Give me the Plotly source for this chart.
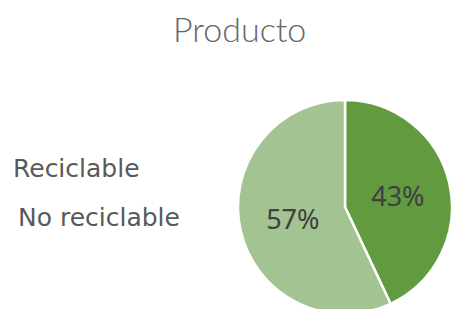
import plotly.graph_objects as go

categories = ["Reciclable", "No reciclable"]
values = [43, 57]
colors = ["#629B3F", "#A3C492"]
title_text = "Producto"

W, H = 452, 320  # taller than the 309px window so the pie is cut at the bottom like the reference

def px(x):
    return x / W

def py(y):
    return 1 - y / H

fig = go.Figure(go.Pie(
    labels=categories,
    values=values,
    sort=False,
    direction="clockwise",
    rotation=0,
    marker=dict(colors=colors, line=dict(color="white", width=2.5)),
    textinfo="percent",
    texttemplate="%{percent:.0%}",
    textposition="inside",
    insidetextorientation="horizontal",
    textfont=dict(family="Noto Sans", size=27, color="#404040"),
    domain=dict(x=[px(238), px(452)], y=[py(314), py(100)]),
    showlegend=False,
    hoverinfo="label+percent",
))

annotations = [
    dict(text=title_text, x=px(239), y=py(28), xref="paper", yref="paper",
         xanchor="center", yanchor="middle", showarrow=False,
         font=dict(family="Lato", size=34, color="#666666", weight=300)),
]
legend_pos = [(11, 168), (16, 217)]
for name, (lx, ly) in zip(categories, legend_pos):
    annotations.append(dict(text=name, x=px(lx), y=py(ly), xref="paper", yref="paper",
                            xanchor="left", yanchor="middle", showarrow=False,
                            font=dict(family="DejaVu Sans", size=25, color="#595959")))

fig.update_layout(
    width=W, height=H,
    margin=dict(l=0, r=0, t=0, b=0),
    paper_bgcolor="white", plot_bgcolor="white",
    annotations=annotations,
)

fig.write_html(
    "out.html",
    config={"displayModeBar": False},
    post_script=(
        "document.body.style.margin='0';"
        "document.body.style.overflow='hidden';"
        "document.documentElement.style.overflow='hidden';"
    ),
)
